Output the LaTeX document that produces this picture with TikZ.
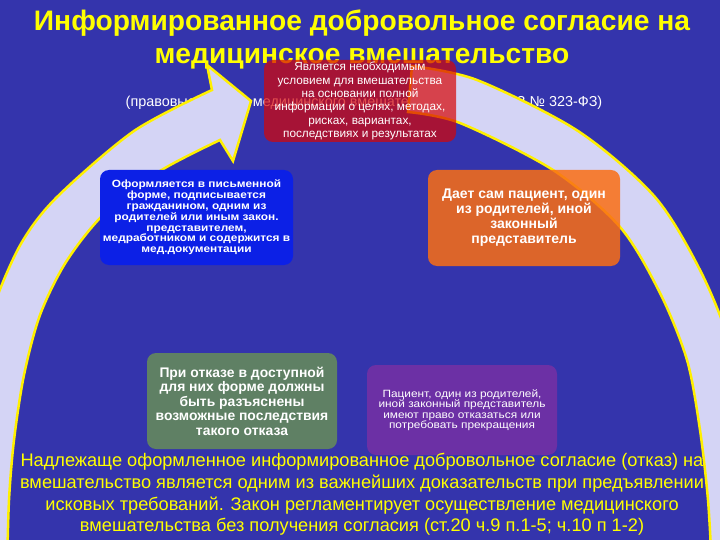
\documentclass[tikz,border=0pt]{standalone}
\usepackage{fontspec}
\setmainfont{Liberation Sans}
\newfontfamily\widesans[FakeStretch=1.13]{Liberation Sans}
\definecolor{slidebg}{RGB}{52,52,172}
\definecolor{ringfill}{RGB}{212,212,245}
\definecolor{ringedge}{RGB}{255,240,0}
\definecolor{titleyellow}{RGB}{255,255,0}
\definecolor{boxred}{RGB}{215,5,5}
\definecolor{boxblue}{RGB}{12,32,230}
\definecolor{boxorange}{RGB}{250,110,20}
\definecolor{boxgreen}{RGB}{95,128,100}
\definecolor{boxviolet}{RGB}{108,48,165}
\tikzset{
    ring/.style={fill=ringfill, draw=ringedge, line width=2.5pt, line join=miter},
    infobox/.style={rounded corners=9pt, text=white, align=center, inner sep=0pt},
    headline/.style={text=titleyellow, align=center, font=\bfseries\fontsize{28.2}{33}\selectfont},
}

\begin{document}
\begin{tikzpicture}[x=1pt, y=-1pt]
\useasboundingbox (0,0) rectangle (720,540);
\fill[slidebg] (0,0) rectangle (720,540);
\clip (0,0) rectangle (720,540);

\node[headline] (head) at (362,39) {Информированное добровольное согласие на\\медицинское вмешательство};
\node[text=white, font=\fontsize{14.4}{16}\selectfont] (law) at (364,103) {(правовые основы медицинского вмешательства – ст.20 ФЗ № 323-ФЗ)};

\draw[ring] plot[smooth] coordinates {(412,66) (477,80) (578,131) (655,197) (701,272) (731,347) (745,423) (754,500) (756,570)}
  -- plot[smooth] coordinates {(712,570) (708,500) (700,430) (687,360) (660,293) (620,227) (553,170) (460,123) (408,112)} -- cycle;
\draw[ring] plot[smooth] coordinates {(-44,570) (-40,500) (-33,430) (-22,365) (-4,300) (22,242) (57,197) (134,131) (212,90)}
  -- (207,65) -- (251,101) -- (233,161)
  -- plot[smooth] coordinates {(220,140) (160,171) (104,214) (66,262) (40,315) (24,375) (14,440) (9,500) (7,570)} -- cycle;

\node[infobox, fill=boxred, fill opacity=0.7, text opacity=1, minimum width=192pt, minimum height=82pt,
  font=\fontsize{11.8}{13.3}\selectfont] (need) at (360,101)
  {Является необходимым\\условием для вмешательства\\на основании полной\\информации о целях, методах,\\рисках, вариантах,\\последствиях и результатах};
\node[infobox, fill=boxblue, minimum width=193pt, minimum height=95pt,
  font=\widesans\bfseries\fontsize{10.5}{10.8}\selectfont] (form) at (196.5,217.5)
  {Оформляется в письменной\\форме, подписывается\\гражданином, одним из\\родителей или иным закон.\\представителем,\\медработником и содержится в\\мед.документации};
\node[infobox, fill=boxorange, fill opacity=0.85, text opacity=1, minimum width=192pt, minimum height=96pt,
  font=\bfseries\fontsize{14}{15}\selectfont] (give) at (524,218)
  {Дает сам пациент, один\\из родителей, иной\\законный\\представитель};
\node[infobox, fill=boxgreen, minimum width=190pt, minimum height=96pt,
  font=\bfseries\fontsize{13.9}{14.5}\selectfont] (refuse) at (242,401)
  {При отказе в доступной\\для них форме должны\\быть разъяснены\\возможные последствия\\такого отказа};
\node[infobox, fill=boxviolet, minimum width=190pt, minimum height=90pt,
  font=\widesans\fontsize{10.5}{10.4}\selectfont] (right) at (462,410)
  {Пациент, один из родителей,\\иной законный представитель\\имеют право отказаться или\\потребовать прекращения};

\node[text=titleyellow, align=center, font=\fontsize{18.2}{21.7}\selectfont] (note) at (362,494.5)
  {Надлежаще оформленное информированное добровольное согласие (отказ) на\\вмешательство является одним из важнейших доказательств при предъявлении\\исковых требований. Закон регламентирует осуществление медицинского\\вмешательства без получения согласия (ст.20 ч.9 п.1-5; ч.10 п 1-2)};
\end{tikzpicture}
\end{document}
